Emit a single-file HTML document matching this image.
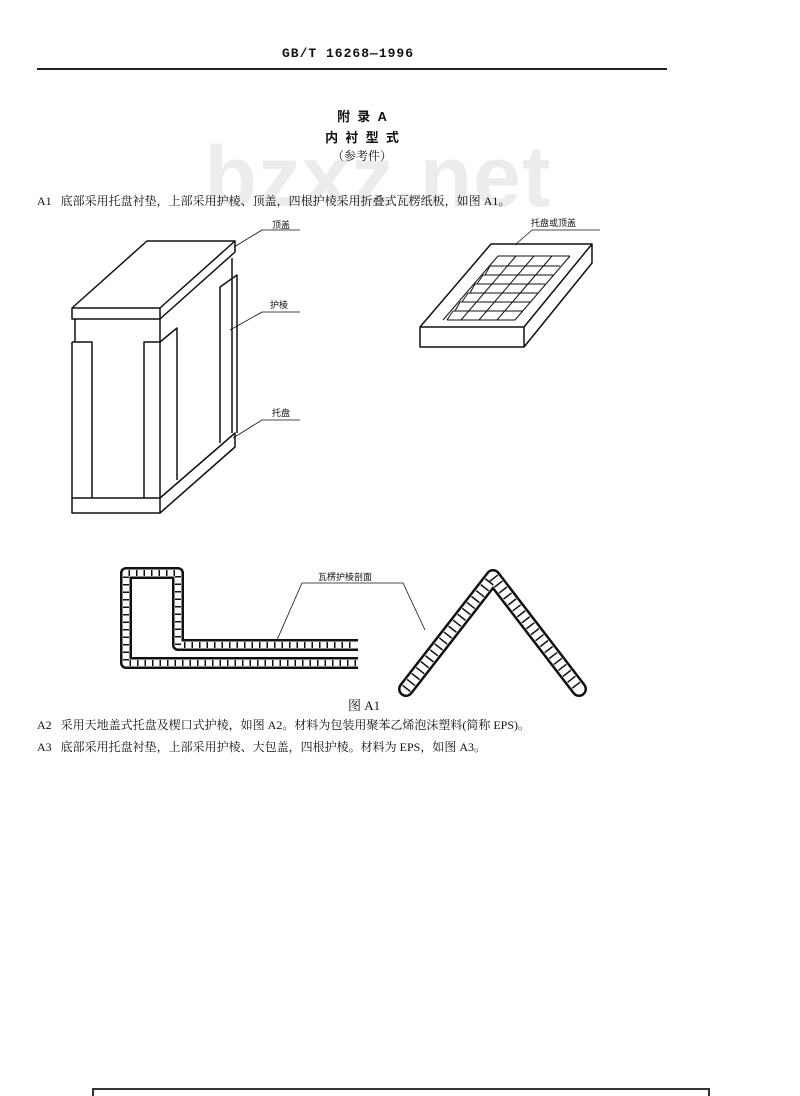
<!DOCTYPE html>
<html><head><meta charset="utf-8"><style>
html,body{margin:0;padding:0;background:#fff;width:800px;height:1096px;overflow:hidden;}
body{position:relative;font-family:"Liberation Serif","Noto Serif CJK SC","Noto Sans CJK SC",serif;color:#111;}
.t{position:absolute;white-space:nowrap;}
</style></head><body>
<div class="t" style="width:800px;text-align:center;font-size:86px;font-weight:bold;color:#ececec;font-family:'Liberation Sans',sans-serif;top:128px;left:-22px;letter-spacing:1px;">bzxz.net</div>
<div class="t" style="left:282px;top:46px;font-size:13px;font-weight:bold;font-family:'Liberation Mono',monospace;letter-spacing:1px;">GB/T 16268—1996</div>
<div style="position:absolute;left:37px;top:68px;width:630px;height:2px;background:#222;"></div>
<div class="t" style="left:0;width:724px;text-align:center;top:106px;font-size:13px;font-weight:bold;font-family:'Liberation Sans','Noto Sans CJK SC',sans-serif;">附&nbsp;&nbsp;录&nbsp;&nbsp;A</div>
<div class="t" style="left:0;width:724px;text-align:center;top:127px;font-size:13px;font-weight:bold;font-family:'Liberation Sans','Noto Sans CJK SC',sans-serif;">内&nbsp;&nbsp;衬&nbsp;&nbsp;型&nbsp;&nbsp;式</div>
<div class="t" style="left:0;width:724px;text-align:center;top:147px;font-size:12px;">（参考件）</div>
<div class="t" style="left:37px;top:192px;font-size:12px;">A1&nbsp;&nbsp;&nbsp;底部采用托盘衬垫，上部采用护棱、顶盖，四根护棱采用折叠式瓦楞纸板，如图 A1。</div>
<div class="t" style="left:348px;top:695px;font-size:13px;">图 A1</div>
<div class="t" style="left:37px;top:716px;font-size:12px;">A2&nbsp;&nbsp;&nbsp;采用天地盖式托盘及楔口式护棱，如图 A2。材料为包装用聚苯乙烯泡沫塑料(简称 EPS)。</div>
<div class="t" style="left:37px;top:738px;font-size:12px;">A3&nbsp;&nbsp;&nbsp;底部采用托盘衬垫，上部采用护棱、大包盖，四根护棱。材料为 EPS，如图 A3。</div>
<div style="position:absolute;left:92px;top:1088px;width:614px;height:8px;border:2px solid #333;border-bottom:none;"></div>
<svg width="800" height="1096" style="position:absolute;left:0;top:0" xmlns="http://www.w3.org/2000/svg">
<g fill="none" stroke="#111" stroke-width="1.5" stroke-linejoin="round">
<path d="M72,308 L147,241 L235,241 L160,308 Z" fill="#fff"/>
<path d="M72,308 L72,319 L160,319 L160,308 M160,319 L235,252 L235,241"/>
<path d="M75,319 L75,342 M160,319 L160,498 M232,258 L232,433"/>
<path d="M72,342 L92,342 L92,498 M72,342 L72,513 L160,513 L160,498 L72,498"/>
<path d="M144,498 L144,342 L160,342 L177,328 L177,480"/>
<path d="M220,443 L220,287 L237,275 L237,433"/>
<path d="M160,498 L235,433 L235,447 L160,513"/>
<path stroke-width="0.8" d="M234,247 L262,230 L300,230 M230,330 L262,312 L300,312 M233,438 L262,420 L300,420"/>
<path d="M420,327 L491,244 L592,244 L524,327 Z M420,327 L420,347 L524,347 L524,327 M524,347 L592,263 L592,244"/>
<g stroke-width="1">
<path d="M443,320 L498,256 M461,320 L516,256 M479,320 L534,256 M497,320 L552,256 M515,320 L570,256"/>
<path d="M447,320 L515,320 M453,311 L523,311 M460,302 L530,302 M468,293 L538,293 M475,284 L545,284 M483,275 L553,275 M490,266 L560,266 M498,256 L570,256"/>
<path d="M453,311 L447,320 M460,302 L455,311 M468,293 L462,302 M475,284 L470,293 M483,275 L477,284 M490,266 L485,275"/>
</g>
<path stroke-width="0.8" d="M515,245 L532,230 L600,230"/>
<path stroke-width="12" d="M358,663 L126,663 L126,573 L178,573 L178,645 L358,645"/>
<path stroke-width="7" stroke="#fff" d="M358,663 L126,663 L126,573 L178,573 L178,645 L358,645"/>
<path stroke-width="6" stroke-dasharray="1.5 6" d="M356,663 L126,663 L126,573 L178,573 L178,645 L356,645"/>
<path stroke-width="16" stroke-linecap="round" d="M406,689 L493,577 L579,689"/>
<path stroke-width="11" stroke="#fff" stroke-linecap="round" d="M406,689 L493,577 L579,689"/>
<path stroke-width="10" stroke-dasharray="1.5 6" d="M406,689 L493,577 L579,689"/>
<path stroke-width="0.8" d="M277,640 L302,583 L403,583 L425,630"/>
</g>
<g font-family="Liberation Sans,Noto Sans CJK SC,sans-serif" font-size="9" fill="#111">
<text x="272" y="228">顶盖</text>
<text x="270" y="308">护棱</text>
<text x="272" y="416">托盘</text>
<text x="531" y="226">托盘或顶盖</text>
<text x="318" y="580">瓦楞护棱剖面</text>
</g>
</svg>
</body></html>
